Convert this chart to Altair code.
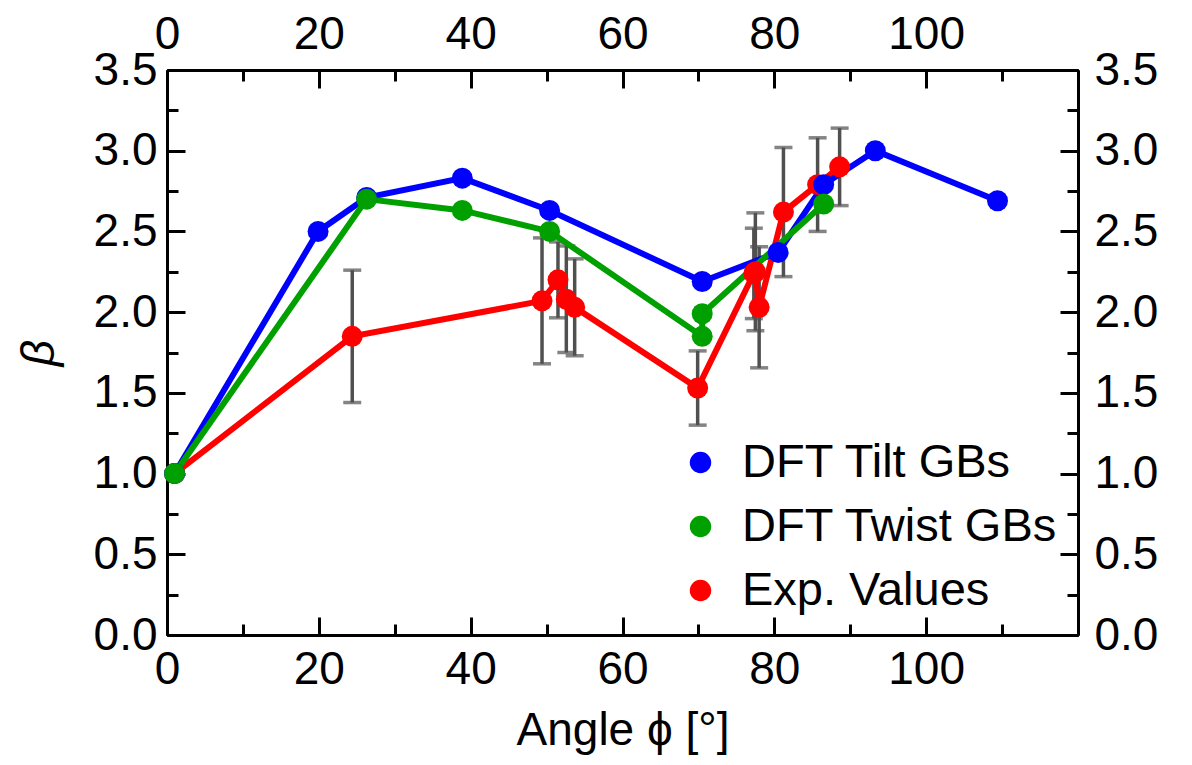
import altair as alt
import pandas as pd

# ---- data ----
tilt_angle = [1.0, 19.9, 26.3, 38.9, 50.4, 70.5, 80.5, 86.5, 93.3, 109.4]
tilt_beta = [1.00, 2.50, 2.71, 2.83, 2.63, 2.19, 2.37, 2.79, 3.00, 2.69]

twist_angle = [1.0, 26.3, 38.9, 50.4, 70.5, 70.5, 86.5]
twist_beta = [1.00, 2.70, 2.63, 2.50, 1.85, 1.99, 2.67]

exp_angle = [1.0, 24.4, 49.4, 51.5, 52.6, 53.7, 69.9, 77.3, 77.5, 78.0, 81.2, 85.7, 88.6]
exp_beta = [1.00, 1.85, 2.07, 2.20, 2.08, 2.03, 1.53, 2.24, 2.25, 2.03, 2.62, 2.79, 2.90]
exp_err = [0.0, 0.41, 0.39, 0.235, 0.33, 0.30, 0.23, 0.28, 0.365, 0.375, 0.40, 0.29, 0.24]

series_names = ["DFT Tilt GBs", "DFT Twist GBs", "Exp. Values"]
series_colors = ["#0000ff", "#00a000", "#ff0000"]

x_major = [0, 20, 40, 60, 80, 100]
x_minor = [10, 30, 50, 70, 90, 110]
y_major = [0.0, 0.5, 1.0, 1.5, 2.0, 2.5, 3.0, 3.5]
y_minor = [0.25, 0.75, 1.25, 1.75, 2.25, 2.75, 3.25]

# ---- tables ----
tilt = pd.DataFrame({"angle": tilt_angle, "beta": tilt_beta, "series": series_names[0], "z": 2,
                     "idx": range(len(tilt_angle))})
twist = pd.DataFrame({"angle": twist_angle, "beta": twist_beta, "series": series_names[1], "z": 3,
                      "idx": range(len(twist_angle))})
exp = pd.DataFrame({"angle": exp_angle, "beta": exp_beta, "series": series_names[2], "z": 1,
                    "idx": range(len(exp_angle))})
exp["lo"] = exp["beta"] - pd.Series(exp_err)
exp["hi"] = exp["beta"] + pd.Series(exp_err)
errs = exp[pd.Series(exp_err) > 0].copy()

points = pd.concat([exp, tilt, twist], ignore_index=True)

FONT = "Liberation Sans"
ERR_COLOR = "#505050"
xs = alt.Scale(domain=[0, 120], nice=False, zero=False)
ys = alt.Scale(domain=[0, 3.5], nice=False, zero=False)

MAJ = {"expr": "-18"}
MIN = {"expr": "-11"}


def ax(orient, values, size, labels=True, title=None, fmt=None, pad=10):
    kw = dict(orient=orient, values=values, tickSize=size, tickWidth=3, tickColor="black",
              domainWidth=3, domainColor="black", grid=False, labels=labels,
              labelFontSize=46, labelFont=FONT, labelColor="black", labelPadding=pad,
              title=title, labelFlush=False, labelOverlap=False)
    if fmt:
        kw["format"] = fmt
    return alt.Axis(**kw)


err_rule = alt.Chart(errs).mark_rule(color=ERR_COLOR, strokeWidth=3.5).encode(
    x=alt.X("angle:Q", scale=xs,
            axis=alt.Axis(orient="bottom", values=x_major, tickSize=MAJ, tickWidth=3, tickColor="black",
                          domainWidth=3, domainColor="black", grid=False, labelFontSize=46,
                          labelFont=FONT, labelColor="black", labelPadding=30, labelFlush=False,
                          title="Angle ϕ [°]", titleFont=FONT, titleFontSize=46,
                          titleFontWeight="normal", titleColor="black", titlePadding=16)),
    y=alt.Y("lo:Q", scale=ys,
            axis=alt.Axis(orient="left", values=y_major, format=".1f", tickSize=MAJ, tickWidth=3,
                          tickColor="black", domainWidth=3, domainColor="black", grid=False,
                          labelFontSize=46, labelFont=FONT, labelColor="black", labelPadding=28,
                          labelFlush=False, title="β", titleFont=FONT, titleFontSize=46,
                          titleFontStyle="italic", titleFontWeight="normal", titleColor="black",
                          titlePadding=30)),
    y2="hi:Q",
)

cap_lo = alt.Chart(errs).mark_tick(color=ERR_COLOR, orient="horizontal", size=18, thickness=3.5).encode(
    x=alt.X("angle:Q", scale=xs, axis=ax("top", x_major, MAJ, pad=30)),
    y=alt.Y("lo:Q", scale=ys, axis=ax("right", y_major, MAJ, fmt=".1f", pad=34)),
)
cap_hi = alt.Chart(errs).mark_tick(color=ERR_COLOR, orient="horizontal", size=18, thickness=3.5).encode(
    x=alt.X("angle:Q", scale=xs, axis=ax("bottom", x_minor, MIN, labels=False)),
    y=alt.Y("hi:Q", scale=ys, axis=ax("left", y_minor, MIN, labels=False)),
)


def line(df, color, axes=False):
    if axes:
        xa = ax("top", x_minor, MIN, labels=False)
        ya = ax("right", y_minor, MIN, labels=False)
    else:
        xa = None
        ya = None
    return alt.Chart(df).mark_line(color=color, strokeWidth=6).encode(
        x=alt.X("angle:Q", scale=xs, axis=xa),
        y=alt.Y("beta:Q", scale=ys, axis=ya),
        order="idx:Q",
    )


line_exp = line(exp, series_colors[2], axes=True)
line_tilt = line(tilt, series_colors[0])
line_twist = line(twist, series_colors[1])

pts = alt.Chart(points).mark_circle(size=440, opacity=1).encode(
    x=alt.X("angle:Q", scale=xs, axis=None),
    y=alt.Y("beta:Q", scale=ys, axis=None),
    color=alt.Color("series:N",
                    scale=alt.Scale(domain=series_names, range=series_colors),
                    legend=alt.Legend(orient="none", legendX=510, legendY=369, title=None,
                                      symbolType="circle", symbolSize=460, symbolStrokeWidth=0,
                                      labelFontSize=47, labelFont=FONT, labelColor="black",
                                      labelLimit=0, labelOffset=18, rowPadding=16, padding=0)),
    order=alt.Order("z:Q"),
)

chart = alt.layer(err_rule, cap_lo, cap_hi, line_exp, line_tilt, line_twist, pts).resolve_axis(
    x="independent", y="independent"
).properties(
    width=911, height=565,
    autosize=alt.AutoSizeParams(type="none"),
    padding={"left": 167, "top": 70, "right": 114, "bottom": 130},
    background="white",
).configure_view(stroke=None)

chart.save("out.html", embed_options={"renderer": "svg", "actions": False})
